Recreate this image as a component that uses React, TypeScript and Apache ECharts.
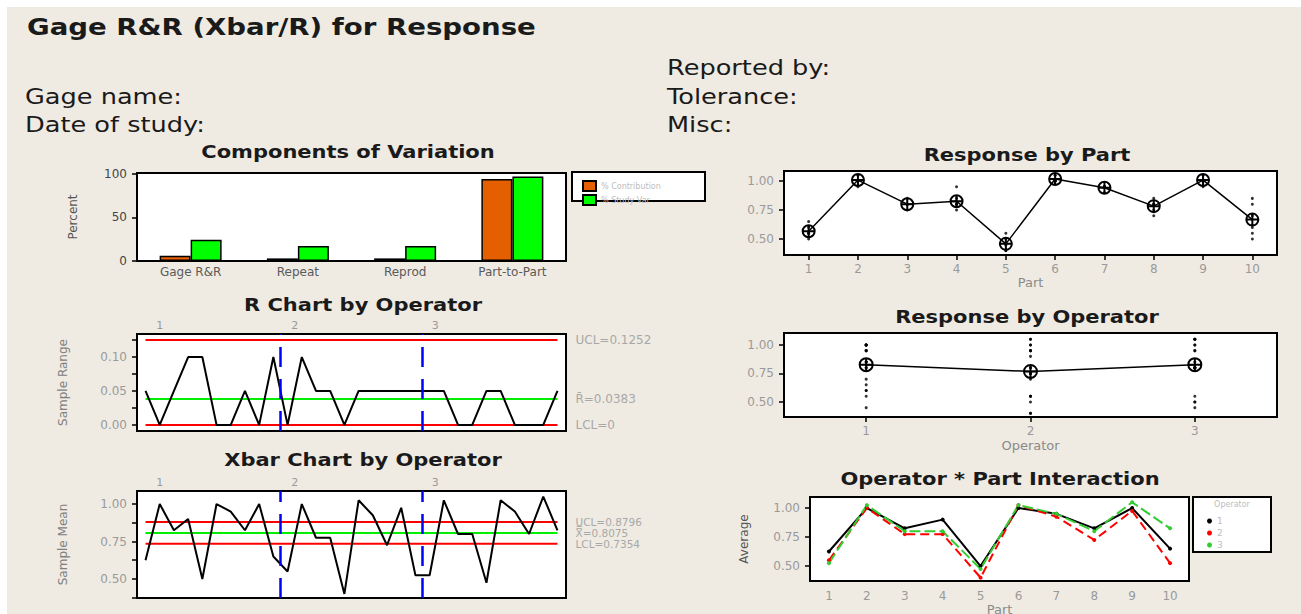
import React, { useEffect, useRef } from "react";
import * as echarts from "echarts";

// ---------------- data ----------------
const COMPONENTS = ["Gage R&R", "Repeat", "Reprod", "Part-to-Part"];
const PCT_CONTRIBUTION = [6, 3, 3, 94];
const PCT_STUDY_VAR = [24.5, 17.3, 17.3, 97];

const PARTS = ["1", "2", "3", "4", "5", "6", "7", "8", "9", "10"];
const OPERATORS = ["1", "2", "3"];

const OP1_TRIAL1 = [0.65, 1.0, 0.85, 0.85, 0.55, 1.0, 0.95, 0.85, 1.0, 0.6];
const OP1_TRIAL2 = [0.6, 1.0, 0.8, 0.95, 0.45, 1.0, 0.95, 0.8, 1.0, 0.7];
const OP2_TRIAL1 = [0.55, 1.05, 0.8, 0.8, 0.4, 1.0, 0.95, 0.75, 1.0, 0.55];
const OP2_TRIAL2 = [0.55, 0.95, 0.75, 0.75, 0.4, 1.05, 0.9, 0.7, 0.95, 0.5];
const OP3_TRIAL1 = [0.5, 1.05, 0.8, 0.8, 0.45, 1.0, 0.95, 0.8, 1.05, 0.85];
const OP3_TRIAL2 = [0.55, 1.0, 0.8, 0.8, 0.5, 1.05, 0.95, 0.8, 1.05, 0.8];

const XBAR_OP1 = [0.625, 1.0, 0.825, 0.9, 0.5, 1.0, 0.95, 0.825, 1.0, 0.65];
const XBAR_OP2 = [0.55, 1.0, 0.775, 0.775, 0.4, 1.025, 0.925, 0.725, 0.975, 0.525];
const XBAR_OP3 = [0.525, 1.025, 0.8, 0.8, 0.475, 1.025, 0.95, 0.8, 1.05, 0.825];

const RANGE_OP1 = [0.05, 0, 0.05, 0.1, 0.1, 0, 0, 0.05, 0, 0.1];
const RANGE_OP2 = [0, 0.1, 0.05, 0.05, 0, 0.05, 0.05, 0.05, 0.05, 0.05];
const RANGE_OP3 = [0.05, 0.05, 0, 0, 0.05, 0.05, 0, 0, 0, 0.05];

const PART_MEANS = [0.567, 1.008, 0.8, 0.825, 0.458, 1.017, 0.942, 0.783, 1.008, 0.667];
const OPERATOR_MEANS = [0.8275, 0.7675, 0.8275];

const R_UCL = 0.1252;
const R_BAR = 0.0383;
const R_LCL = 0;
const X_UCL = 0.8796;
const X_BAR = 0.8075;
const X_LCL = 0.7354;

const OPERATOR_SPLITS = [10.5, 20.5];
const OPERATOR_LABEL_POS = [2, 11.5, 21.4];

const COMP_TICKS = [0, 50, 100];
const R_LABEL_TICKS = [0, 0.05, 0.1];
const R_MINOR_TICKS = [0, 0.025, 0.05, 0.075, 0.1, 0.125];
const X_LABEL_TICKS = [0.5, 0.75, 1.0];
const X_MINOR_TICKS = [0.375, 0.5, 0.625, 0.75, 0.875, 1.0];
const RESP_TICKS = [0.5, 0.75, 1.0];

// ---------------- styling helpers ----------------
const FONT = "DejaVu Sans";
const BG = "#EFEBE3";
const MEAN_SYMBOL = "path://M1,12A11,11,0,1,0,23,12A11,11,0,1,0,1,12ZM1,12L23,12M12,1L12,23";

function gridBox(left: number, top: number, width: number, height: number) {
  return {
    left, top, width, height,
    show: true,
    borderColor: "#000",
    borderWidth: 2,
    backgroundColor: "#fff",
    containLabel: false,
    outerBoundsMode: "none",
  };
}

function yValueAxis(gridIndex: number, min: number, max: number, labels: number[], ticks: number[], digits: number, name?: string, nameGap?: number, nameColor?: string, labelColor?: string) {
  return {
    type: "value",
    gridIndex,
    min,
    max,
    name: name || "",
    nameLocation: "middle",
    nameGap: nameGap || 50,
    nameRotate: 90,
    nameTextStyle: { fontFamily: FONT, fontSize: 12, color: nameColor || "#777" },
    axisLine: { show: false },
    splitLine: { show: false },
    axisTick: { show: true, customValues: ticks, length: 5, lineStyle: { color: "#000", width: 1.5 } },
    axisLabel: {
      customValues: labels,
      formatter: (v: number) => v.toFixed(digits),
      color: labelColor || "#9a9a9a",
      fontFamily: FONT,
      fontSize: 12,
      margin: 10,
    },
  };
}

function hiddenValueX(gridIndex: number) {
  return {
    type: "value", gridIndex, min: 0.4, max: 30.6,
    axisLine: { show: false }, axisTick: { show: false }, axisLabel: { show: false }, splitLine: { show: false },
  };
}

function operatorTopX(gridIndex: number) {
  return {
    type: "value", gridIndex, min: 0.4, max: 30.6, position: "top",
    axisLine: { show: false }, axisTick: { show: false }, splitLine: { show: false },
    axisLabel: {
      customValues: OPERATOR_LABEL_POS,
      formatter: (v: number) => {
        const i = OPERATOR_LABEL_POS.findIndex((p) => Math.abs(p - v) < 1e-6);
        return i >= 0 ? OPERATORS[i] : "";
      },
      color: "#9a9a9a", fontFamily: FONT, fontSize: 11, margin: 3,
    },
  };
}

function categoryX(gridIndex: number, data: string[], name: string, ticks: boolean, nameGap: number, margin: number) {
  return {
    type: "category", gridIndex, data,
    name, nameLocation: "middle", nameGap,
    nameTextStyle: { fontFamily: FONT, fontSize: 13, color: "#8a8a8a" },
    axisLine: { show: false },
    splitLine: { show: false },
    axisTick: { show: ticks, alignWithLabel: true, length: 5, lineStyle: { color: "#000", width: 1.5 } },
    axisLabel: { color: "#9a9a9a", fontFamily: FONT, fontSize: 12, margin },
  };
}

function limitLine(name: string, xi: number, yi: number, value: number, color: string, label: string, fontSize = 12) {
  return {
    name, type: "line", xAxisIndex: xi, yAxisIndex: yi,
    data: [[1, value], [30, value]],
    symbol: "none", silent: true, z: 1,
    lineStyle: { color, width: 2 },
    itemStyle: { color },
    endLabel: { show: true, formatter: label, distance: 18, color: "#a8a8a8", fontFamily: FONT, fontSize, lineHeight: fontSize },
  };
}

const splitMarkLine = {
  symbol: ["none", "none"], silent: true, label: { show: false },
  lineStyle: { color: "#0000FF", width: 2.5, type: [20, 12] },
  data: OPERATOR_SPLITS.map((x) => ({ xAxis: x })),
};

function seq(values: number[][]) {
  const all = ([] as number[]).concat(...values);
  return all.map((v, i) => [i + 1, v]);
}

function dotsByCategory(groups: number[][][]) {
  const out: number[][] = [];
  groups.forEach((arrs) => arrs.forEach((arr) => arr.forEach((v, i) => out.push([i, v]))));
  return out;
}

function dotsByOperator(opArrays: number[][][]) {
  const out: number[][] = [];
  opArrays.forEach((arrs, k) => arrs.forEach((arr) => arr.forEach((v) => out.push([k, v]))));
  return out;
}

function txt(text: string, x: number, y: number, size: number, bold: boolean, align: string, scaleX: number, color = "#1a1a1a") {
  return {
    type: "text", x, y, scaleX, z: 10,
    style: {
      text, fontSize: size, fontWeight: bold ? "bold" : "normal", fontFamily: FONT,
      fill: color, textAlign: align, textVerticalAlign: "middle", align, verticalAlign: "middle",
    },
  };
}

function buildOption() {
  const trials = [[OP1_TRIAL1, OP1_TRIAL2], [OP2_TRIAL1, OP2_TRIAL2], [OP3_TRIAL1, OP3_TRIAL2]];
  return {
    animation: false,
    backgroundColor: "#fff",
    textStyle: { fontFamily: FONT },
    grid: [
      gridBox(137, 173, 429, 88),
      gridBox(137, 334, 429, 97),
      gridBox(137, 491, 429, 107),
      gridBox(784, 171, 493, 84),
      gridBox(784, 333, 493, 84),
      gridBox(810, 497, 379, 84),
    ],
    xAxis: [
      {
        type: "category", gridIndex: 0, data: COMPONENTS,
        axisLine: { show: false }, axisTick: { show: false }, splitLine: { show: false },
        axisLabel: { color: "#5a5a5a", fontFamily: FONT, fontSize: 12, margin: 5 },
      },
      hiddenValueX(1),
      operatorTopX(1),
      hiddenValueX(2),
      operatorTopX(2),
      categoryX(3, PARTS, "Part", true, 21, 8),
      categoryX(4, OPERATORS, "Operator", true, 22, 8),
      categoryX(5, PARTS, "Part", false, 20, 9),
    ],
    yAxis: [
      yValueAxis(0, 0, 101, COMP_TICKS, COMP_TICKS, 0, "Percent", 58, "#555", "#444"),
      yValueAxis(1, -0.009, 0.134, R_LABEL_TICKS, R_MINOR_TICKS, 2, "Sample Range", 68, "#808080"),
      yValueAxis(2, 0.373, 1.087, X_LABEL_TICKS, X_MINOR_TICKS, 2, "Sample Mean", 68, "#808080"),
      yValueAxis(3, 0.362, 1.086, RESP_TICKS, RESP_TICKS, 2),
      yValueAxis(4, 0.368, 1.105, RESP_TICKS, RESP_TICKS, 2),
      yValueAxis(5, 0.371, 1.095, RESP_TICKS, RESP_TICKS, 2, "Average", 60, "#555"),
    ],
    legend: [
      {
        data: ["% Contribution", "% Study Var"],
        left: 577, top: 175, orient: "vertical",
        icon: "rect", itemWidth: 13, itemHeight: 10, itemGap: 2,
        textStyle: { fontFamily: FONT, fontSize: 8, color: "#bdbdbd" },
        selectedMode: false,
      },
      {
        data: ["1", "2", "3"],
        left: 1202, top: 511, orient: "vertical",
        icon: "circle", itemWidth: 5, itemHeight: 5, itemGap: 2,
        textStyle: { fontFamily: FONT, fontSize: 9, color: "#bdbdbd", lineHeight: 10 },
        selectedMode: false,
      },
    ],
    graphic: [
      { type: "rect", z: -100, shape: { x: 7, y: 7, width: 1294, height: 607 }, style: { fill: BG } },
      { type: "rect", z: 0, shape: { x: 572, y: 172, width: 133, height: 29 }, style: { fill: "#fff", stroke: "#000", lineWidth: 2 } },
      { type: "rect", z: 0, shape: { x: 1193, y: 497, width: 78, height: 55 }, style: { fill: "#fff", stroke: "#000", lineWidth: 2 } },
      txt("Operator", 1232, 504, 8, false, "center", 1, "#bdbdbd"),
      txt("Gage R&R (Xbar/R) for Response", 27, 27, 23, true, "left", 1.2),
      txt("Reported by:", 667, 67, 20.5, false, "left", 1.25),
      txt("Gage name:", 25, 96, 20.5, false, "left", 1.25),
      txt("Tolerance:", 667, 96, 20.5, false, "left", 1.25),
      txt("Date of study:", 25, 124, 20.5, false, "left", 1.25),
      txt("Misc:", 667, 124, 20.5, false, "left", 1.25),
      txt("Components of Variation", 348, 152, 17.5, true, "center", 1.2),
      txt("R Chart by Operator", 363, 305, 17.5, true, "center", 1.2),
      txt("Xbar Chart by Operator", 363, 460, 17.5, true, "center", 1.2),
      txt("Response by Part", 1027, 155, 17.5, true, "center", 1.2),
      txt("Response by Operator", 1027, 317, 17.5, true, "center", 1.2),
      txt("Operator * Part Interaction", 1000, 479, 17.5, true, "center", 1.2),
    ],
    series: [
      // Components of variation
      {
        name: "% Contribution", type: "bar", xAxisIndex: 0, yAxisIndex: 0,
        data: PCT_CONTRIBUTION, barWidth: 31, barGap: "0%",
        itemStyle: { color: "#E35F00", borderColor: "#000", borderWidth: 1.5 },
      },
      {
        name: "% Study Var", type: "bar", xAxisIndex: 0, yAxisIndex: 0,
        data: PCT_STUDY_VAR, barWidth: 31, barGap: "0%",
        itemStyle: { color: "#00FF00", borderColor: "#000", borderWidth: 1.5 },
      },
      // R chart
      limitLine("R UCL", 1, 1, R_UCL, "#FF0000", "UCL=0.1252"),
      limitLine("R bar", 1, 1, R_BAR, "#00EE00", "R\u0304=0.0383"),
      limitLine("R LCL", 1, 1, R_LCL, "#FF0000", "LCL=0"),
      {
        name: "Sample Range", type: "line", xAxisIndex: 1, yAxisIndex: 1,
        data: seq([RANGE_OP1, RANGE_OP2, RANGE_OP3]),
        symbol: "none", z: 3,
        lineStyle: { color: "#000", width: 2 }, itemStyle: { color: "#000" },
        markLine: splitMarkLine,
      },
      // Xbar chart
      limitLine("X UCL", 3, 2, X_UCL, "#FF0000", "UCL=0.8796", 10.5),
      limitLine("X bar", 3, 2, X_BAR, "#00EE00", "X\u033F=0.8075", 10.5),
      limitLine("X LCL", 3, 2, X_LCL, "#FF0000", "LCL=0.7354", 10.5),
      {
        name: "Sample Mean", type: "line", xAxisIndex: 3, yAxisIndex: 2,
        data: seq([XBAR_OP1, XBAR_OP2, XBAR_OP3]),
        symbol: "none", z: 3,
        lineStyle: { color: "#000", width: 2 }, itemStyle: { color: "#000" },
        markLine: splitMarkLine,
      },
      // Response by part
      {
        name: "Part obs", type: "scatter", xAxisIndex: 5, yAxisIndex: 3,
        data: dotsByCategory(trials), symbolSize: 3, itemStyle: { color: "#000" }, silent: true,
      },
      {
        name: "Part mean", type: "line", xAxisIndex: 5, yAxisIndex: 3,
        data: PART_MEANS, symbol: MEAN_SYMBOL, symbolSize: 12, showSymbol: true,
        lineStyle: { color: "#000", width: 1.5 },
        itemStyle: { color: "rgba(0,0,0,0)", borderColor: "#000", borderWidth: 2 },
      },
      // Response by operator
      {
        name: "Operator obs", type: "scatter", xAxisIndex: 6, yAxisIndex: 4,
        data: dotsByOperator(trials), symbolSize: 3, itemStyle: { color: "#000" }, silent: true,
      },
      {
        name: "Operator mean", type: "line", xAxisIndex: 6, yAxisIndex: 4,
        data: OPERATOR_MEANS, symbol: MEAN_SYMBOL, symbolSize: 13, showSymbol: true,
        lineStyle: { color: "#000", width: 1.5 },
        itemStyle: { color: "rgba(0,0,0,0)", borderColor: "#000", borderWidth: 2 },
      },
      // Interaction
      {
        name: "1", type: "line", xAxisIndex: 7, yAxisIndex: 5, data: XBAR_OP1,
        symbol: "circle", symbolSize: 4, lineStyle: { color: "#000", width: 2 }, itemStyle: { color: "#000" },
      },
      {
        name: "2", type: "line", xAxisIndex: 7, yAxisIndex: 5, data: XBAR_OP2,
        symbol: "circle", symbolSize: 4, lineStyle: { color: "#FF0000", width: 2, type: [9, 5] }, itemStyle: { color: "#FF0000" },
      },
      {
        name: "3", type: "line", xAxisIndex: 7, yAxisIndex: 5, data: XBAR_OP3,
        symbol: "circle", symbolSize: 4, lineStyle: { color: "#33CC33", width: 2, type: [11, 4] }, itemStyle: { color: "#33CC33" },
      },
    ],
  };
}

export default function App() {
  const ref = useRef<HTMLDivElement>(null);
  useEffect(() => {
    if (!ref.current) return;
    const chart = echarts.init(ref.current, null, { renderer: "svg" });
    chart.setOption(buildOption() as any);
    return () => chart.dispose();
  }, []);
  return (
    <div style={{ position: "absolute", left: 0, top: 0, width: 1301, height: 614, background: "#fff", overflow: "hidden" }}>
      <div ref={ref} style={{ width: 1301, height: 614 }} />
    </div>
  );
}
